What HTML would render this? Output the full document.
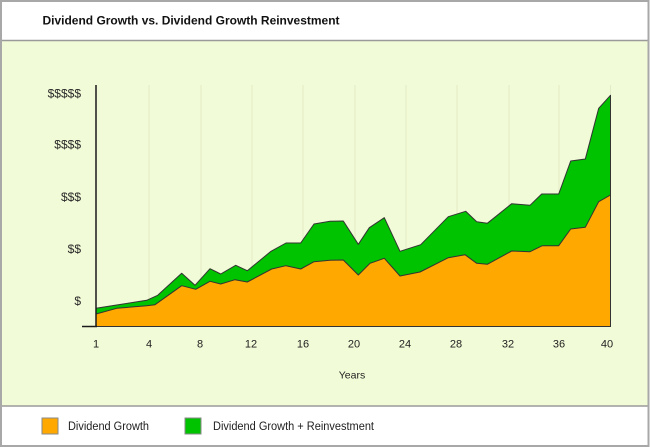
<!DOCTYPE html>
<html>
<head>
<meta charset="utf-8">
<style>
  html,body{margin:0;padding:0;background:#fff;}
  svg{display:block;}
  text{font-family:"Liberation Sans", Arial, sans-serif;}
</style>
</head>
<body>
<svg width="650" height="447" viewBox="0 0 650 447" xmlns="http://www.w3.org/2000/svg">
  <!-- backgrounds -->
  <rect x="0" y="0" width="650" height="447" fill="#ffffff"/>
  <rect x="1" y="41" width="648" height="365" fill="#f2fbd7"/>
  <!-- separators -->
  <line x1="1" y1="40.5" x2="649" y2="40.5" stroke="#9a9a9a" stroke-width="1.5"/>
  <line x1="1" y1="406" x2="649" y2="406" stroke="#9a9a9a" stroke-width="1.5"/>
  <!-- outer border -->
  <rect x="1" y="1" width="647.5" height="445" fill="none" stroke="#a8a8a8" stroke-width="2"/>

  <!-- title -->
  <text x="42.5" y="24.5" font-size="12" font-weight="bold" fill="#111" textLength="297" lengthAdjust="spacingAndGlyphs">Dividend Growth vs. Dividend Growth Reinvestment</text>

  <!-- gridlines -->
  <g stroke="#e3eac6" stroke-width="1">
    <line x1="149" y1="85" x2="149" y2="326"/>
    <line x1="201" y1="85" x2="201" y2="326"/>
    <line x1="252" y1="85" x2="252" y2="326"/>
    <line x1="303" y1="85" x2="303" y2="326"/>
    <line x1="355" y1="85" x2="355" y2="326"/>
    <line x1="406" y1="85" x2="406" y2="326"/>
    <line x1="457" y1="85" x2="457" y2="326"/>
    <line x1="509" y1="85" x2="509" y2="326"/>
    <line x1="559" y1="85" x2="559" y2="326"/>
    <line x1="610.5" y1="85" x2="610.5" y2="326"/>
  </g>

  <!-- green area -->
  <polygon fill="#00c300" stroke="#333" stroke-width="1" stroke-linejoin="round"
    points="96,308.3 116.7,305 146.7,300.3 157.7,295.3 181.7,273.3 195,285.3 210,268.7 220.7,274 235.7,265.3 247.3,270.7 271,251.3 286,243 300.7,243 314,224 330,221.3 343.3,221 358.3,244.3 369.3,227.7 384.3,217.7 400,251.3 420.7,244.7 448.3,216.7 465.7,211.3 476.7,221.7 487.3,223.3 511.7,203.7 530,205.3 541.7,194 558.7,194 570.7,161 585.3,159 598.7,108.3 610.5,95.3 610.5,326.5 96,326.5"/>
  <!-- orange area -->
  <polygon fill="#ffa800" stroke="#333" stroke-width="1" stroke-linejoin="round"
    points="96,314 116.7,308.3 146.7,305.7 155,304.7 181.7,285.7 195.7,289.3 210,281.3 220.7,284 235,279.7 247.3,282 271.7,269 286,265.7 300.7,269 314,261.7 330,260.3 343.3,260 358.3,275 370,263.3 384.3,258.3 400,276 420,272 448.3,257.7 465,254.7 476.7,263.3 487.3,264.3 511.7,251 530,251.7 542.3,245.7 558.7,245.7 570.7,229 585.3,227.3 598.7,201.7 610.5,195 610.5,326.5 96,326.5"/>

  <!-- axes -->
  <line x1="96" y1="85" x2="96" y2="327" stroke="#1a1a1a" stroke-width="1.5"/>
  <line x1="82" y1="326.5" x2="97" y2="326.5" stroke="#1a1a1a" stroke-width="1.5"/>

  <!-- y labels -->
  <g font-size="12" fill="#2a2a2a" text-anchor="end">
    <text x="81" y="97.5">$$$$$</text>
    <text x="81" y="148.5">$$$$</text>
    <text x="81" y="201">$$$</text>
    <text x="81" y="253">$$</text>
    <text x="81" y="305">$</text>
  </g>

  <!-- x labels -->
  <g font-size="11" fill="#1e1e1e" text-anchor="middle">
    <text x="96" y="347.5">1</text>
    <text x="149" y="347.5">4</text>
    <text x="200" y="347.5">8</text>
    <text x="251" y="347.5">12</text>
    <text x="303" y="347.5">16</text>
    <text x="354" y="347.5">20</text>
    <text x="405" y="347.5">24</text>
    <text x="456" y="347.5">28</text>
    <text x="508" y="347.5">32</text>
    <text x="559" y="347.5">36</text>
    <text x="607" y="347.5">40</text>
  </g>
  <text x="352" y="378.5" font-size="10.5" fill="#1e1e1e" text-anchor="middle">Years</text>

  <!-- legend -->
  <rect x="42" y="418" width="16" height="16" fill="#ffa800" stroke="#8a8a8a" stroke-width="1"/>
  <text x="68" y="430" font-size="11.5" fill="#1e1e1e" textLength="81" lengthAdjust="spacingAndGlyphs">Dividend Growth</text>
  <rect x="185" y="418" width="16" height="16" fill="#00c300" stroke="#8a8a8a" stroke-width="1"/>
  <text x="213" y="430" font-size="11.5" fill="#1e1e1e" textLength="161" lengthAdjust="spacingAndGlyphs">Dividend Growth + Reinvestment</text>
</svg>
</body>
</html>
